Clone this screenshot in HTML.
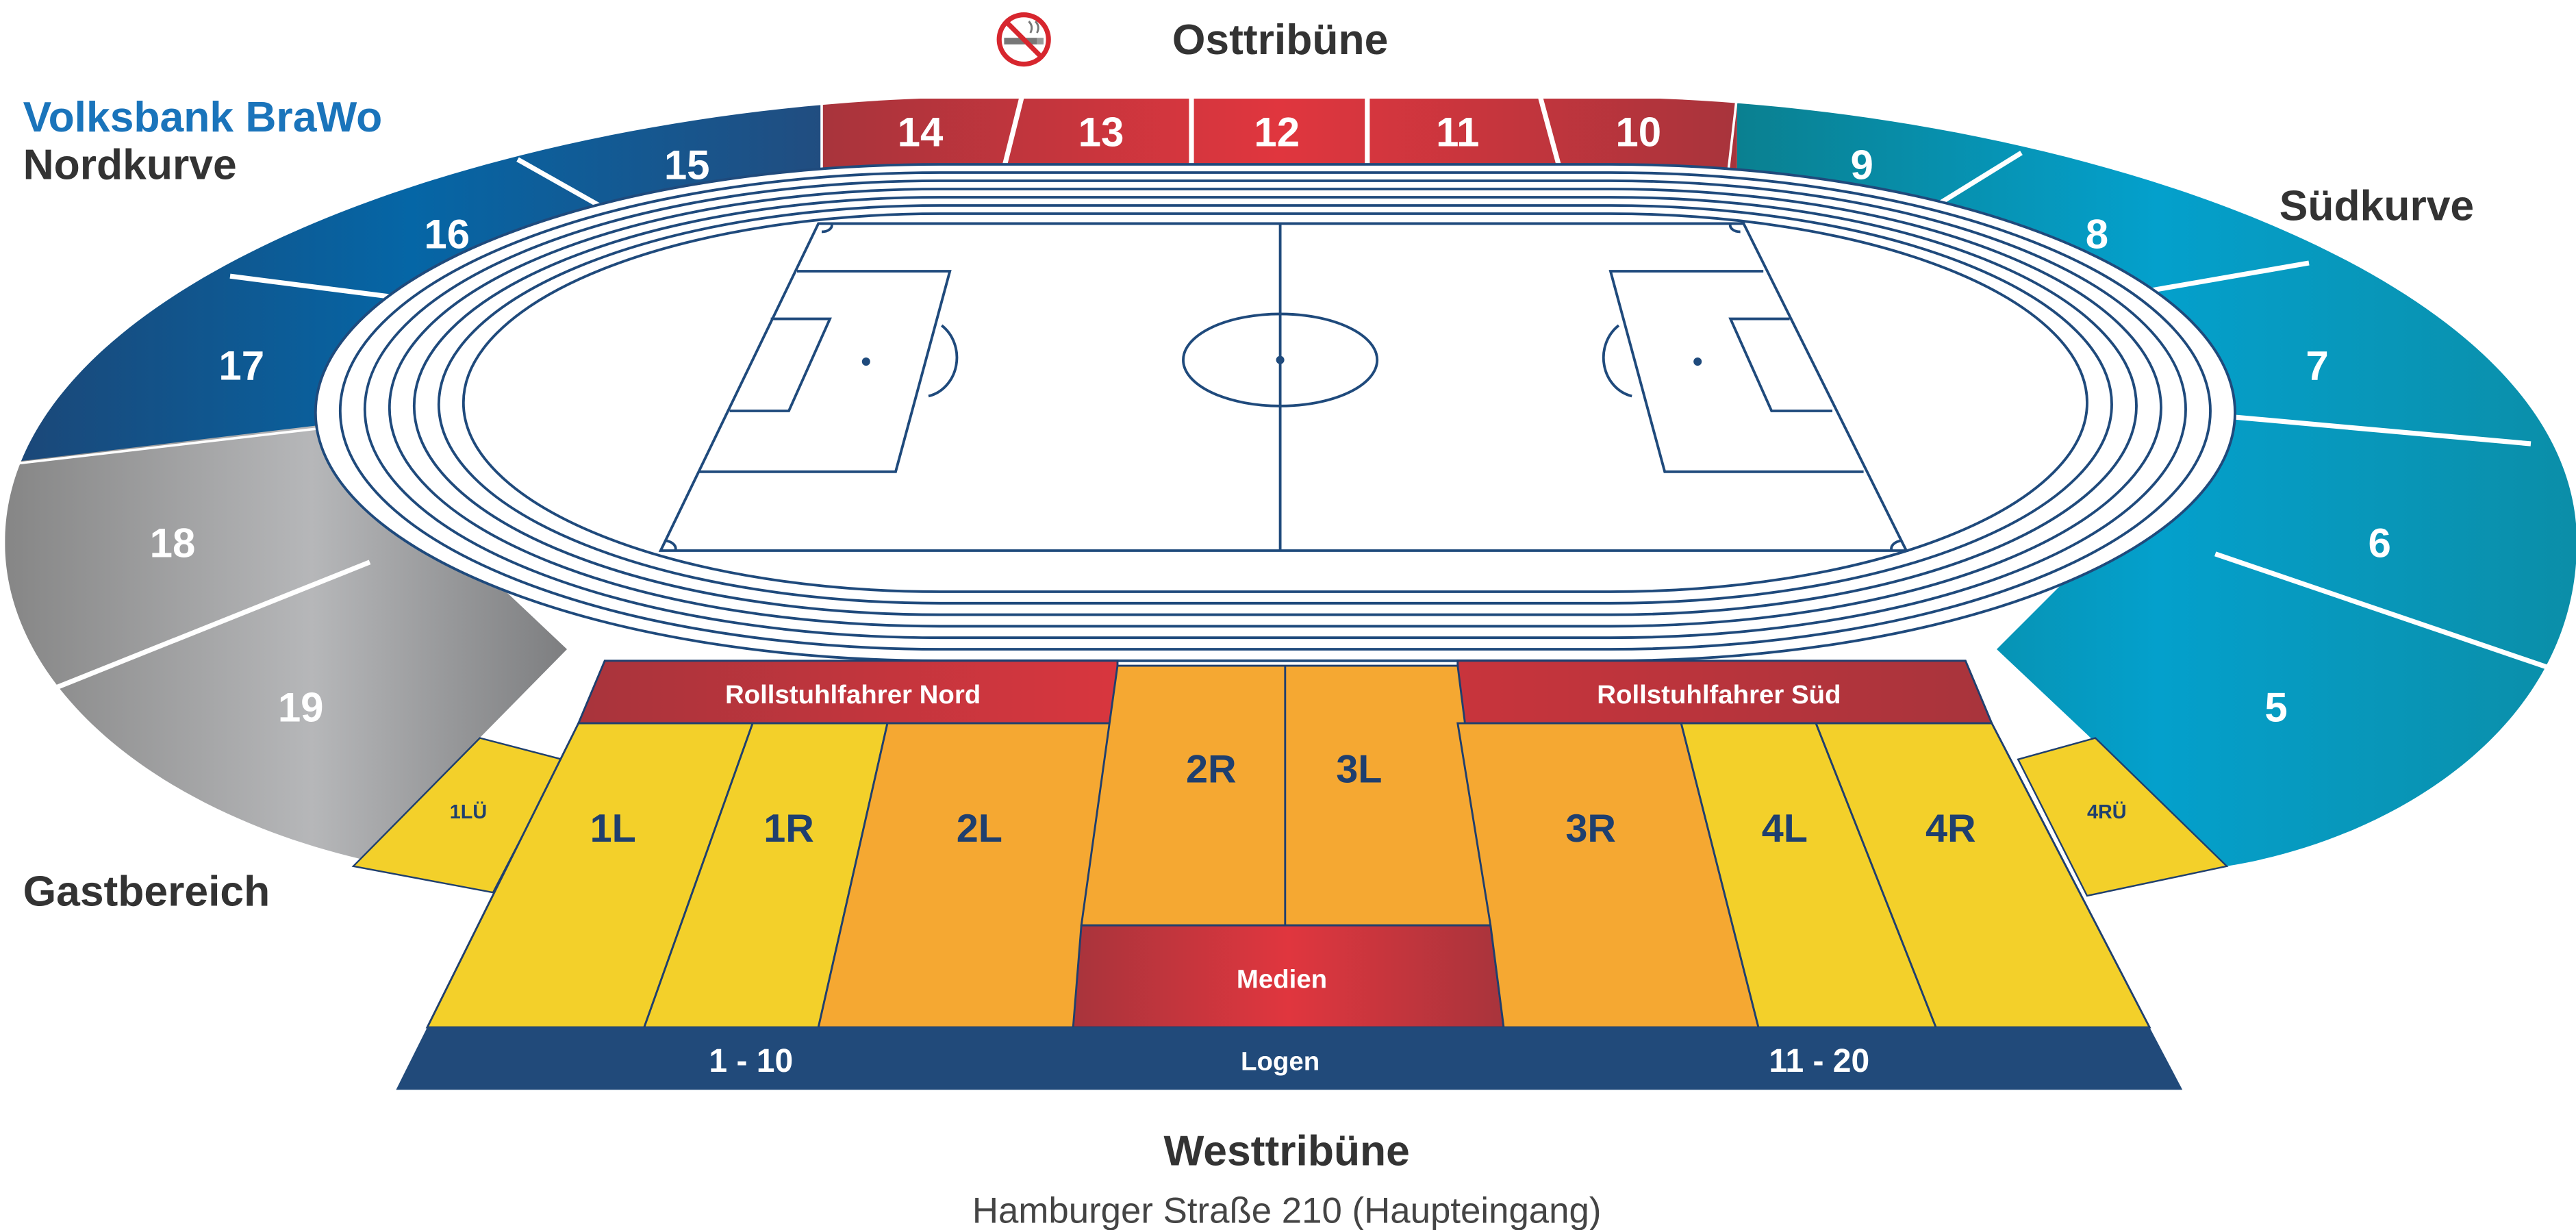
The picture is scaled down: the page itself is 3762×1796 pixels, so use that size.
<!DOCTYPE html>
<html><head><meta charset="utf-8"><style>
html,body{margin:0;padding:0;background:#fff}
svg{display:block}
text{font-family:"Liberation Sans",Arial,sans-serif;font-weight:bold}
</style></head><body>
<svg width="3762" height="1796" viewBox="0 0 1567.5 748.33" xmlns="http://www.w3.org/2000/svg">
<defs>
<clipPath id="oc"><path d="M3,330 C3,170 300,70 560,60 L1010,60 C1270,70 1568,170 1568,330 C1568,440 1460,510 1355,527 L240,527 C100,500 3,420 3,330 Z"/></clipPath>
<linearGradient id="gb" x1="0" x2="500" gradientUnits="userSpaceOnUse"><stop offset="0" stop-color="#1c4676"/><stop offset="0.5" stop-color="#0566a6"/><stop offset="1" stop-color="#214d80"/></linearGradient>
<linearGradient id="gr" x1="500" x2="1057" gradientUnits="userSpaceOnUse"><stop offset="0" stop-color="#a8343c"/><stop offset="0.5" stop-color="#e0363e"/><stop offset="1" stop-color="#a8343c"/></linearGradient>
<linearGradient id="gt" x1="1057" x2="1568" gradientUnits="userSpaceOnUse"><stop offset="0" stop-color="#0a8090"/><stop offset="0.5" stop-color="#04a0cc"/><stop offset="1" stop-color="#0b8ea8"/></linearGradient>
<linearGradient id="gg" x1="0" x2="345" gradientUnits="userSpaceOnUse"><stop offset="0" stop-color="#858585"/><stop offset="0.55" stop-color="#b6b7b9"/><stop offset="1" stop-color="#7d7e80"/></linearGradient>
<linearGradient id="grn" x1="352" x2="680" gradientUnits="userSpaceOnUse"><stop offset="0" stop-color="#a8343c"/><stop offset="1" stop-color="#d8363e"/></linearGradient>
<linearGradient id="grs" x1="887" x2="1212" gradientUnits="userSpaceOnUse"><stop offset="0" stop-color="#c8343c"/><stop offset="1" stop-color="#a8343c"/></linearGradient>
<linearGradient id="gm" x1="653" x2="915" gradientUnits="userSpaceOnUse"><stop offset="0" stop-color="#a8343c"/><stop offset="0.5" stop-color="#e0363e"/><stop offset="1" stop-color="#a8343c"/></linearGradient>
</defs>

<g clip-path="url(#oc)">
<polygon points="0,0 500,0 500,120 200,260 0,282" fill="url(#gb)"/>
<polygon points="500,0 1057,0 1057,130 500,130" fill="url(#gr)"/>
<polygon points="1057,0 1568,0 1568,560 1355,527 1215,395 1360,250 1057,130" fill="url(#gt)"/>
<polygon points="0,282 200,258 345,395 215,527 0,560" fill="url(#gg)"/>
</g>
<g stroke="#fff" stroke-width="3">
<line x1="622" y1="58" x2="610" y2="106"/><line x1="725" y1="58" x2="725" y2="106"/><line x1="832" y1="58" x2="832" y2="106"/><line x1="937" y1="58" x2="950" y2="106"/>
<line x1="500" y1="58" x2="500" y2="110" stroke-width="1.5"/><line x1="1057" y1="58" x2="1051" y2="110" stroke-width="1.5"/>
<line x1="315" y1="97" x2="377" y2="132"/><line x1="140" y1="168" x2="265" y2="184"/>
<line x1="30" y1="420" x2="225" y2="342"/><line x1="10" y1="282" x2="200" y2="260" stroke-width="1.5"/>
<line x1="1230" y1="93" x2="1170" y2="130"/><line x1="1405" y1="160" x2="1290" y2="180"/>
<line x1="1540" y1="270" x2="1340" y2="252"/><line x1="1562" y1="410" x2="1348" y2="337"/>
</g>
<polygon points="215,527 300,543 342,462 292,449" fill="#f3d02a" stroke="#1f3f6e" stroke-width="1"/>
<polygon points="1228,462 1270,545 1355,527 1275,449" fill="#f3d02a" stroke="#1f3f6e" stroke-width="1"/>

<g fill="#fff" font-size="25" text-anchor="middle">
<text x="418" y="109">15</text><text x="272" y="151">16</text><text x="147" y="231">17</text><text x="105" y="339">18</text><text x="183" y="439">19</text>
<text x="560" y="89">14</text><text x="670" y="89">13</text><text x="777" y="89">12</text><text x="887" y="89">11</text><text x="997" y="89">10</text>
<text x="1133" y="109">9</text><text x="1276" y="151">8</text><text x="1410" y="231">7</text><text x="1448" y="339">6</text><text x="1385" y="439">5</text>
</g>

<!-- track -->
<g stroke="#1f4a7c" stroke-width="1.6" fill="#fff">
<rect x="192" y="100" width="1168" height="302" rx="380" ry="151"/>
<rect x="207" y="105" width="1138" height="290" rx="365" ry="145"/>
<rect x="222" y="110" width="1108" height="278" rx="350" ry="139"/>
<rect x="237" y="115" width="1078" height="266" rx="335" ry="133"/>
<rect x="252" y="120" width="1048" height="254" rx="320" ry="127"/>
<rect x="267" y="125" width="1018" height="242" rx="305" ry="121"/>
<rect x="282" y="130" width="988" height="230" rx="290" ry="115"/>
</g>
<g stroke="#1f4a7c" stroke-width="1.6" fill="none">
<polygon points="498,136 1061,136 1160,335 402,335"/>
<line x1="779" y1="136" x2="779" y2="335"/>
<ellipse cx="779" cy="219" rx="59" ry="28"/>
<polyline points="485,165 578,165 545,287 425,287"/>
<polyline points="469,194 505,194 480,250 444,250"/>
<path d="M573,198 A22,24 0 0 1 565,241"/>
<polyline points="1073,165 980,165 1013,287 1134,287"/>
<polyline points="1089,194 1053,194 1078,250 1115,250"/>
<path d="M985,198 A22,24 0 0 0 993,241"/>
<path d="M411,335 A7,5 0 0 0 405,329"/><path d="M1151,335 A7,5 0 0 1 1157,329"/>
<path d="M506,136 A6,4 0 0 1 500,141"/><path d="M1053,136 A6,4 0 0 0 1059,141"/>
</g>
<g fill="#1f4a7c"><circle cx="527" cy="220" r="2.5"/><circle cx="779" cy="219" r="2.5"/><circle cx="1033" cy="220" r="2.5"/></g>

<!-- west stand -->
<g stroke="#1f3f6e" stroke-width="1.2">
<polygon points="368,402 680,402 680,440 352,440" fill="url(#grn)"/>
<polygon points="887,402 1196,402 1212,440 887,440" fill="url(#grs)"/>
<polygon points="352,440 458,440 392,625 260,625" fill="#f3d02a"/>
<polygon points="458,440 540,440 498,625 392,625" fill="#f3d02a"/>
<polygon points="540,440 680,440 653,625 498,625" fill="#f5a832"/>
<polygon points="680,405 887,405 907,563 658,563" fill="#f5a832"/>
<line x1="782" y1="405" x2="782" y2="563"/>
<polygon points="658,563 907,563 915,625 653,625" fill="url(#gm)"/>
<polygon points="887,440 1023,440 1070,625 915,625 907,563" fill="#f5a832"/>
<polygon points="1023,440 1105,440 1178,625 1070,625" fill="#f3d02a"/>
<polygon points="1105,440 1212,440 1308,625 1178,625" fill="#f3d02a"/>
</g>
<polygon points="260,625 1308,625 1328,663 241,663" fill="#214a7a"/>

<g fill="#1f3f6e" font-size="24" text-anchor="middle">
<text x="373" y="512">1L</text><text x="480" y="512">1R</text><text x="596" y="512">2L</text>
<text x="737" y="476">2R</text><text x="827" y="476">3L</text>
<text x="968" y="512">3R</text><text x="1086" y="512">4L</text><text x="1187" y="512">4R</text>
<text x="285" y="498" font-size="12">1LÜ</text><text x="1282" y="498" font-size="12">4RÜ</text>
</g>
<g fill="#fff" text-anchor="middle">
<text x="519" y="428" font-size="16">Rollstuhlfahrer Nord</text>
<text x="1046" y="428" font-size="16">Rollstuhlfahrer Süd</text>
<text x="780" y="601" font-size="16">Medien</text>
<text x="457" y="652" font-size="20">1 - 10</text>
<text x="779" y="651" font-size="16">Logen</text>
<text x="1107" y="652" font-size="20">11 - 20</text>
</g>

<!-- headings -->
<g font-size="26" fill="#333">
<text x="779" y="33" text-anchor="middle">Osttribüne</text>
<text x="14" y="80" fill="#1a74bb">Volksbank BraWo</text>
<text x="14" y="109">Nordkurve</text>
<text x="1387" y="134">Südkurve</text>
<text x="14" y="551">Gastbereich</text>
<text x="783" y="709" text-anchor="middle">Westtribüne</text>
</g>
<text x="783" y="744" text-anchor="middle" font-size="22" fill="#444" style="font-weight:normal">Hamburger Straße 210 (Haupteingang)</text>

<!-- no smoking icon -->
<g>
<circle cx="623" cy="24" r="15" fill="#fff" stroke="#d7262e" stroke-width="3"/>
<rect x="611" y="23" width="20" height="4" fill="#777"/>
<rect x="631" y="23" width="4" height="4" fill="#999"/>
<path d="M627,20 q2,-4 -1,-7 M631,20 q2,-4 -1,-7" stroke="#777" stroke-width="1.2" fill="none"/>
<line x1="612" y1="13" x2="634" y2="35" stroke="#d7262e" stroke-width="3"/>
</g>
</svg>
</body></html>
